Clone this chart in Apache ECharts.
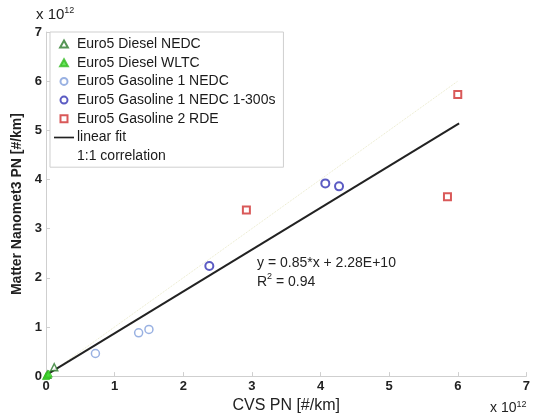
<!DOCTYPE html>
<html>
<head>
<meta charset="utf-8">
<script src="https://cdn.jsdelivr.net/npm/echarts@6/dist/echarts.min.js"></script>
<style>
  html, body { margin: 0; padding: 0; background: #fff; }
  #chart { width: 533px; height: 419px; }
</style>
</head>
<body>
<div id="chart"></div>
<script>
// values in units of 10^12 #/km
const dieselNedc = [[0.12, 0.18], [0.02, 0.03]];
const dieselWltc = [[0.0, 0.0], [0.02, 0.03], [0.04, 0.05]];
const gas1Nedc = [[0.72, 0.46], [1.35, 0.88], [1.5, 0.95]];
const gas1Nedc300 = [[2.38, 2.24], [4.07, 3.92], [4.27, 3.86]];
const gas2Rde = [[2.92, 3.38], [6.0, 5.73], [5.85, 3.65]];
const fitLine = [[0, 0.02], [6.02, 5.14]];
const oneToOne = [[0, 0], [6, 6]];
const xTicks = [0, 1, 2, 3, 4, 5, 6, 7];
const yTicks = [0, 1, 2, 3, 4, 5, 6, 7];

const chart = echarts.init(document.getElementById('chart'));
const font = 'Liberation Sans, Arial, sans-serif';

const triIcon = 'path://M5,0 L10,9 L0,9 Z';
const rectIcon = 'path://M0,0 L10,0 L10,10 L0,10 Z';
const lineIcon = 'path://M0,0 L24,0 L24,2 L0,2 Z';

const axisCommon = {
  min: 0,
  max: 7,
  interval: 1,
  splitLine: { show: false },
  axisLine: { show: true, lineStyle: { color: '#cfcfcf', width: 1 } },
  axisTick: { show: true, inside: true, length: 4, lineStyle: { color: '#cfcfcf' } },
  axisLabel: { color: '#222', fontSize: 13, fontFamily: font, fontWeight: 'bold' },
  nameLocation: 'middle'
};

const hollow = (c, w) => ({ color: '#fff', borderColor: c, borderWidth: w });

chart.setOption({
  animation: false,
  grid: { left: 46, right: 5, top: 32, bottom: 38 },
  xAxis: Object.assign({}, axisCommon, {
    type: 'value',
    name: 'CVS PN [#/km]',
    nameGap: 10,
    nameTextStyle: { color: '#222', fontSize: 16, fontFamily: font },
    axisLabel: Object.assign({}, axisCommon.axisLabel, {
      margin: 4,
      formatter: v => xTicks.includes(v) ? String(v) : ''
    })
  }),
  yAxis: Object.assign({}, axisCommon, {
    type: 'value',
    name: 'Matter Nanomet3 PN [#/km]',
    nameGap: 20,
    nameTextStyle: { color: '#222', fontSize: 14, fontFamily: font, fontWeight: 'bold' },
    axisLabel: Object.assign({}, axisCommon.axisLabel, {
      margin: 4,
      formatter: v => yTicks.includes(v) ? String(v) : ''
    })
  }),
  legend: {
    orient: 'vertical',
    left: 50,
    top: 32,
    padding: [5, 8, 4, 4],
    backgroundColor: '#fff',
    borderColor: '#cfcfcf',
    borderWidth: 1,
    itemWidth: 20,
    itemHeight: 7,
    itemGap: 4.7,
    textStyle: { color: '#1a1a1a', fontSize: 14, fontFamily: font, padding: [0, 0, 0, -2] },
    data: [
      { name: 'Euro5 Diesel NEDC', icon: triIcon },
      { name: 'Euro5 Diesel WLTC', icon: triIcon },
      { name: 'Euro5 Gasoline 1 NEDC', icon: 'circle' },
      { name: 'Euro5 Gasoline 1 NEDC 1-300s', icon: 'circle' },
      { name: 'Euro5 Gasoline 2 RDE', icon: rectIcon },
      { name: 'linear fit', icon: lineIcon, itemStyle: { color: '#222', borderWidth: 0 } },
      { name: '1:1 correlation', icon: lineIcon, itemStyle: { color: '#fff', opacity: 0, borderWidth: 0 } }
    ]
  },
  series: [
    {
      name: '1:1 correlation',
      type: 'line',
      data: oneToOne,
      symbol: 'none',
      lineStyle: { color: '#e8e8c8', width: 1, type: 'dotted' },
      z: 1
    },
    {
      name: 'linear fit',
      type: 'line',
      data: fitLine,
      symbol: 'none',
      lineStyle: { color: '#222', width: 2 },
      z: 2
    },
    {
      name: 'Euro5 Diesel NEDC',
      type: 'scatter',
      data: dieselNedc,
      symbol: triIcon,
      symbolSize: 7,
      itemStyle: hollow('#2a7a2a', 1.5),
      z: 3
    },
    {
      name: 'Euro5 Diesel WLTC',
      type: 'scatter',
      data: dieselWltc,
      symbol: triIcon,
      symbolSize: 7,
      itemStyle: { color: '#44dd33', borderColor: '#33bb22', borderWidth: 1 },
      z: 4
    },
    {
      name: 'Euro5 Gasoline 1 NEDC',
      type: 'scatter',
      data: gas1Nedc,
      symbol: 'circle',
      symbolSize: 8,
      itemStyle: hollow('#7f9edb', 1.5),
      z: 3
    },
    {
      name: 'Euro5 Gasoline 1 NEDC 1-300s',
      type: 'scatter',
      data: gas1Nedc300,
      symbol: 'circle',
      symbolSize: 8,
      itemStyle: hollow('#3232b4', 2),
      z: 3
    },
    {
      name: 'Euro5 Gasoline 2 RDE',
      type: 'scatter',
      data: gas2Rde,
      symbol: rectIcon,
      symbolSize: 7,
      itemStyle: hollow('#d03030', 2),
      z: 3
    }
  ],
  graphic: [
    {
      type: 'text',
      left: 257,
      top: 256,
      style: {
        text: '{a|y = 0.85*x + 2.28E+10}\n{a|R}{s|2}{a| = 0.94}',
        rich: {
          a: { fontSize: 14, fontFamily: font, fill: '#222', lineHeight: 19 },
          s: { fontSize: 9, fontFamily: font, fill: '#222', verticalAlign: 'top', lineHeight: 19, padding: [0, 0, 8, 0] }
        }
      }
    },
    {
      type: 'text',
      left: 36,
      top: 6,
      style: {
        text: '{a|x 10}{s|12}',
        rich: {
          a: { fontSize: 15, fontFamily: font, fill: '#222', lineHeight: 18 },
          s: { fontSize: 9, fontFamily: font, fill: '#222', lineHeight: 18, padding: [0, 0, 8, 0] }
        }
      }
    },
    {
      type: 'text',
      left: 490,
      top: 400,
      style: {
        text: '{a|x 10}{s|12}',
        rich: {
          a: { fontSize: 14, fontFamily: font, fill: '#222', lineHeight: 18 },
          s: { fontSize: 9, fontFamily: font, fill: '#222', lineHeight: 18, padding: [0, 0, 8, 0] }
        }
      }
    }
  ]
});
</script>
</body>
</html>
